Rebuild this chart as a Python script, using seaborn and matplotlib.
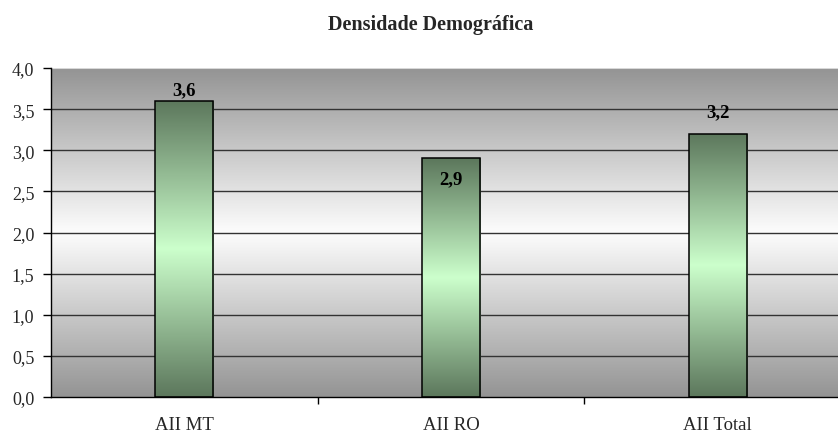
import numpy as np
import pandas as pd
import matplotlib
matplotlib.use("Agg")
import matplotlib.pyplot as plt
from matplotlib.colors import LinearSegmentedColormap
import seaborn as sns

categories = ["AII MT", "AII RO", "AII Total"]
values = [3.6, 2.9, 3.2]
value_labels = ["3,6", "2,9", "3,2"]
label_offsets = [0.13, -0.25, 0.27]  # vertical shift of each value label
y_ticks = [0.0, 0.5, 1.0, 1.5, 2.0, 2.5, 3.0, 3.5, 4.0]
y_tick_labels = ["0,0", "0,5", "1,0", "1,5", "2,0", "2,5", "3,0", "3,5", "4,0"]
title = "Densidade Demográfica"

sns.set_theme(style="white")
plt.rcParams["font.family"] = ["Liberation Serif", "DejaVu Serif"]

df = pd.DataFrame({"cat": categories, "val": values})

fig = plt.figure(figsize=(8.38, 4.35), dpi=100)
ax = fig.add_axes([51 / 838, 37 / 435, 787 / 838, 329 / 435])

x_right = -0.5 + 787 / (800 / 3)

# gray panel gradient: dark at top and bottom, white near the middle
bg_cmap = LinearSegmentedColormap.from_list("bg", ["#949494", "#fdfdfd", "#949494"])
grad = np.linspace(0, 1, 256).reshape(-1, 1)
ax.imshow(grad, cmap=bg_cmap, aspect="auto", extent=(-0.5, x_right, 0, 4.0),
          origin="lower", zorder=0)

sns.barplot(data=df, x="cat", y="val", ax=ax, width=0.218, color="#ccffcc",
            edgecolor="black", linewidth=1.1, zorder=3)
ax.set_xlim(-0.5, x_right)
ax.set_ylim(0, 4.0)

bar_cmap = LinearSegmentedColormap.from_list("bar", ["#5c775c", "#ccffcc", "#5c775c"])
for patch in ax.patches:
    x0, y0 = patch.get_x(), patch.get_y()
    w, h = patch.get_width(), patch.get_height()
    im = ax.imshow(grad, cmap=bar_cmap, aspect="auto", extent=(x0, x0 + w, y0, y0 + h),
                   origin="lower", zorder=2.5)
    im.set_clip_path(patch)
    patch.set_facecolor("none")

for y in y_ticks[1:-1]:
    ax.axhline(y, color="#333333", linewidth=1.0, zorder=1)
ax.axhline(4.0, color="#d8d8d8", linewidth=1.5, zorder=1)

for i, (v, lab, off) in enumerate(zip(values, value_labels, label_offsets)):
    ax.text(i, v + off, lab, ha="center", va="center", fontsize=13.5,
            fontweight="bold", color="black", zorder=5)

ax.set_yticks(y_ticks)
ax.set_yticklabels(y_tick_labels, fontsize=13)
ax.set_xticks(range(len(categories)))
ax.set_xticklabels(categories, fontsize=13.5)
ax.set_xticks([0.5, 1.5], minor=True)
ax.tick_params(axis="x", which="major", bottom=True, length=0, pad=14)
ax.tick_params(axis="x", which="minor", bottom=True, length=5, width=1,
               color="black", direction="out")
ax.tick_params(axis="y", left=True, length=6, width=1, color="black",
               direction="out", pad=6)
ax.set_xlabel("")
ax.set_ylabel("")

for side in ["top", "right"]:
    ax.spines[side].set_visible(False)
for side in ["left", "bottom"]:
    ax.spines[side].set_visible(True)
    ax.spines[side].set_color("black")
    ax.spines[side].set_linewidth(1.0)

fig.text(431 / 838, 1 - 25 / 435, title, ha="center", va="center",
         fontsize=14.5, fontweight="bold")

fig.savefig("out.png", dpi=100, facecolor="white")
